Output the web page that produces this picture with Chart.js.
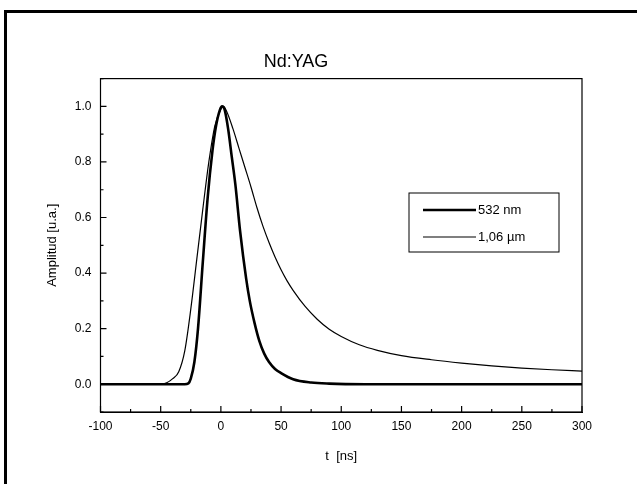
<!DOCTYPE html>
<html>
<head>
<meta charset="utf-8">
<script src="https://cdn.jsdelivr.net/npm/chart.js@4.4.1/dist/chart.umd.min.js"></script>
<style>
  html, body { margin: 0; padding: 0; background: #fff; }
  #wrap { width: 637px; height: 484px; position: relative; }
</style>
</head>
<body>
<div id="wrap"><canvas id="c" width="637" height="484"></canvas></div>
<script>
// ---- data ----
const chartTitle = "Nd:YAG";
const xTitle = "t  [ns]";
const yTitle = "Amplitud [u.a.]";
const seriesNames = ["532 nm", "1,06 \u00b5m"];

// 532 nm (thick line)
const t532 = [-100, -60, -40, -30, -27, -25, -22, -19, -15, -11, -7, -4, -1, 1, 3, 6, 9, 12, 16, 21, 24, 28, 32, 36, 40, 45, 50, 60, 75, 90, 120, 160, 200, 250, 300];
const a532 = [0, 0, 0, 0, 0.003, 0.02, 0.08, 0.2, 0.44, 0.67, 0.84, 0.93, 0.985, 1.0, 0.99, 0.92, 0.82, 0.72, 0.55, 0.38, 0.3, 0.22, 0.155, 0.11, 0.08, 0.055, 0.04, 0.018, 0.006, 0.002, 0, 0, 0, 0, 0];

// 1,06 um (thin line)
const t106 = [-100, -60, -50, -45, -40, -35, -30, -25, -20, -15, -10, -5, 0, 2, 5, 10, 15, 20, 25, 30, 35, 40, 45, 50, 55, 60, 70, 80, 90, 100, 115, 130, 150, 175, 200, 225, 250, 275, 300];
const a106 = [0, 0, 0, 0.005, 0.02, 0.045, 0.12, 0.27, 0.45, 0.63, 0.8, 0.93, 0.99, 1.0, 0.98, 0.92, 0.85, 0.78, 0.71, 0.635, 0.568, 0.51, 0.458, 0.412, 0.372, 0.338, 0.28, 0.234, 0.198, 0.172, 0.142, 0.122, 0.103, 0.088, 0.076, 0.066, 0.058, 0.052, 0.047];

const xMin = -100, xMax = 300, xStep = 25, xLabelStep = 50;
const yMin = -0.1, yMax = 1.1, yStep = 0.1;

const toPts = (xs, ys) => xs.map((x, i) => ({ x: x, y: ys[i] }));

const FONT = "'Liberation Sans', Arial, sans-serif";

// frame around the whole figure + plot box + inward ticks + legend
const decoPlugin = {
  id: 'deco',
  beforeDraw(chart) {
    const ctx = chart.ctx;
    ctx.save();
    ctx.fillStyle = '#fff';
    ctx.fillRect(0, 0, chart.width, chart.height);
    ctx.fillStyle = '#000';
    ctx.fillRect(4, 10, 3, chart.height - 10);
    ctx.fillRect(4, 10, chart.width - 4, 3);
    ctx.restore();
  },
  afterDatasetsDraw(chart) {
    const ctx = chart.ctx;
    const a = chart.chartArea;
    const xs = chart.scales.x, ys = chart.scales.y;
    ctx.save();
    ctx.strokeStyle = '#000';
    ctx.lineWidth = 1.2;
    ctx.strokeRect(a.left, a.top, a.right - a.left, a.bottom - a.top);
    ctx.beginPath();
    xs.ticks.forEach(tk => {
      const px = xs.getPixelForValue(tk.value);
      const major = Math.round(tk.value) % xLabelStep === 0;
      const len = major ? 6 : 3;
      ctx.moveTo(px, a.bottom);
      ctx.lineTo(px, a.bottom - len);
    });
    ys.ticks.forEach(tk => {
      const py = ys.getPixelForValue(tk.value);
      const k = Math.round(tk.value * 10);
      const major = k % 2 === 0;
      const len = major ? 6 : 3;
      ctx.moveTo(a.left, py);
      ctx.lineTo(a.left + len, py);
    });
    ctx.stroke();

    // legend box
    const bx = 409, by = 193, bw = 150, bh = 59;
    ctx.lineWidth = 1;
    ctx.strokeRect(bx, by, bw, bh);
    ctx.font = '13px ' + FONT;
    ctx.fillStyle = '#000';
    ctx.textBaseline = 'middle';
    ctx.textAlign = 'left';
    chart.data.datasets.forEach((ds, i) => {
      const y = by + 17 + i * 27;
      ctx.beginPath();
      ctx.lineWidth = ds.borderWidth;
      ctx.moveTo(bx + 14, y);
      ctx.lineTo(bx + 67, y);
      ctx.stroke();
      ctx.fillText(ds.label, bx + 69, y);
    });
    ctx.restore();
  }
};

new Chart(document.getElementById('c'), {
  type: 'line',
  data: {
    datasets: [
      { label: seriesNames[0], data: toPts(t532, a532), borderColor: '#000', borderWidth: 2.6, pointRadius: 0, cubicInterpolationMode: 'monotone', fill: false },
      { label: seriesNames[1], data: toPts(t106, a106), borderColor: '#000', borderWidth: 1.2, pointRadius: 0, cubicInterpolationMode: 'monotone', fill: false }
    ]
  },
  options: {
    responsive: false,
    animation: false,
    devicePixelRatio: 1,
    layout: { padding: { left: 10, right: 55, top: 0, bottom: 0 } },
    plugins: {
      legend: { display: false },
      tooltip: { enabled: false },
      title: {
        display: true,
        text: chartTitle,
        color: '#000',
        font: { family: FONT, size: 18, weight: 'normal' },
        padding: { top: 51, bottom: 6 }
      }
    },
    scales: {
      x: {
        type: 'linear',
        min: xMin, max: xMax,
        grid: { display: false, drawTicks: false },
        border: { display: true, color: '#000', width: 1 },
        ticks: {
          stepSize: xStep,
          padding: 7,
          color: '#000',
          maxRotation: 0,
          autoSkip: false,
          font: { family: FONT, size: 12 },
          callback: v => (Math.round(v) % xLabelStep === 0 ? String(v) : '')
        },
        title: {
          display: true, text: xTitle, color: '#000',
          font: { family: FONT, size: 13 },
          padding: { top: 4, bottom: 20 }
        },
        afterFit(s) { s.height = 72; }
      },
      y: {
        type: 'linear',
        min: yMin, max: yMax,
        grid: { display: false, drawTicks: false },
        border: { display: true, color: '#000', width: 1 },
        ticks: {
          stepSize: yStep,
          padding: 9,
          color: '#000',
          autoSkip: false,
          font: { family: FONT, size: 12 },
          callback: v => {
            const k = Math.round(v * 10);
            return (k >= 0 && k <= 10 && k % 2 === 0) ? (k / 10).toFixed(1) : '';
          }
        },
        title: {
          display: true, text: yTitle, color: '#000',
          font: { family: FONT, size: 13 },
          padding: { top: 35, bottom: 4 }
        },
        afterFit(s) { s.width = 90.5; }
      }
    }
  },
  plugins: [decoPlugin]
});
</script>
</body>
</html>
